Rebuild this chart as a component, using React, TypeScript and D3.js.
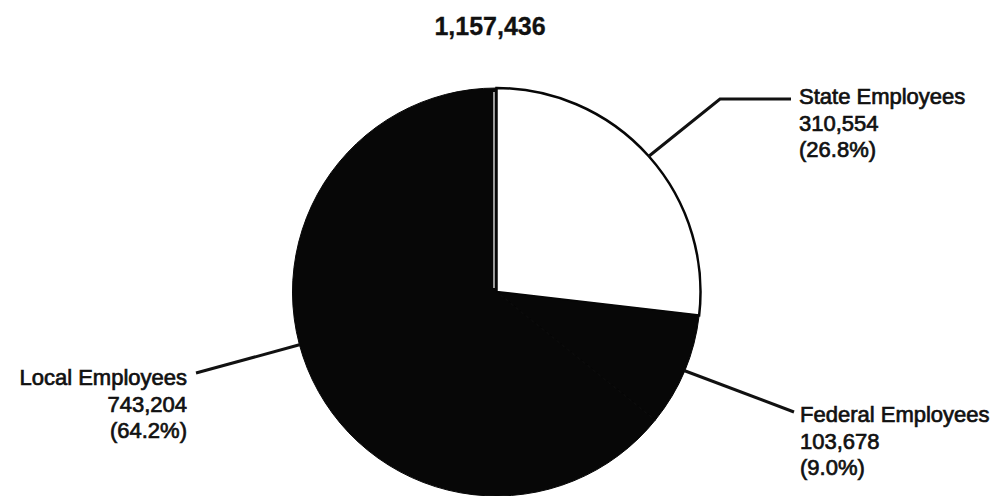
import React from "react";
import * as d3 from "d3";

const categories = ["State Employees", "Federal Employees", "Local Employees"];
const values = [310554, 103678, 743204];
const percents = ["(26.8%)", "(9.0%)", "(64.2%)"];
const totalLabel = "1,157,436";

const W = 993;
const H = 496;
const cx = 496.5;
const cy = 292;
const R = 204;

export default function App() {
  const pie = d3.pie<number>().sort(null).value((d) => d)(values);
  const arc = d3.arc<d3.PieArcDatum<number>>().innerRadius(0).outerRadius(R);
  const fills = ["#ffffff", "#070707", "#070707"];
  const fmt = d3.format(",");

  // leader geometry per slice: angle on rim (deg clockwise from 12 o'clock), elbow, end, text anchor
  const leaders = [
    { angle: null as number | null, elbow: [720, 99], end: [791, 99], tx: 799, ty: 104, anchor: "start" },
    { angle: null as number | null, elbow: null as number[] | null, end: [794, 412], tx: 800, ty: 422, anchor: "start" },
    { angle: 255, elbow: null as number[] | null, end: [196, 373], tx: 187, ty: 385, anchor: "end" },
  ];

  const rimPoint = (deg: number) => {
    const a = (deg * Math.PI) / 180;
    return [cx + R * Math.sin(a), cy - R * Math.cos(a)];
  };

  const textStyle: React.CSSProperties = {
    fontFamily: "'Liberation Sans', Arial, Helvetica, sans-serif",
    fontSize: 22,
    fill: "#111",
    stroke: "#111",
    strokeWidth: 0.7,
  };

  const localEnd = pie[2].endAngle;

  return (
    <svg width={W} height={H} style={{ position: "absolute", left: 0, top: 0, background: "#fff" }}>
      <text
        x={490}
        y={35}
        textAnchor="middle"
        style={{ ...textStyle, fontSize: 25, fontWeight: "bold", strokeWidth: 0.3 }}
      >
        {totalLabel}
      </text>
      <g transform={`translate(${cx},${cy})`}>
        {pie.map((p, i) => (
          <path key={i} d={arc(p) || ""} fill={fills[i]} stroke="#070707" strokeWidth={i === 0 ? 2.5 : 1} />
        ))}
        {/* thin white gap between local and state slices */}
        <line
          x1={-2.5}
          y1={-4}
          x2={-2.5 + (R - 4) * Math.sin(localEnd)}
          y2={-(R - 4) * Math.cos(localEnd)}
          stroke="#fff"
          strokeWidth={1.2}
        />
      </g>
      {pie.map((p, i) => {
        const L = leaders[i];
        const deg = L.angle != null ? L.angle : (((p.startAngle + p.endAngle) / 2) * 180) / Math.PI;
        const start = rimPoint(deg);
        const pts = [start, ...(L.elbow ? [L.elbow] : []), L.end];
        const line = d3.line()(pts as [number, number][]) || "";
        return (
          <g key={i}>
            <path d={line} fill="none" stroke="#111" strokeWidth={3} />
            <text x={L.tx} y={L.ty} textAnchor={L.anchor as any} style={textStyle}>
              <tspan x={L.tx} dy={0}>{categories[i]}</tspan>
              <tspan x={L.tx} dy={26.5}>{fmt(values[i])}</tspan>
              <tspan x={L.tx} dy={26}>{percents[i]}</tspan>
            </text>
          </g>
        );
      })}
    </svg>
  );
}
